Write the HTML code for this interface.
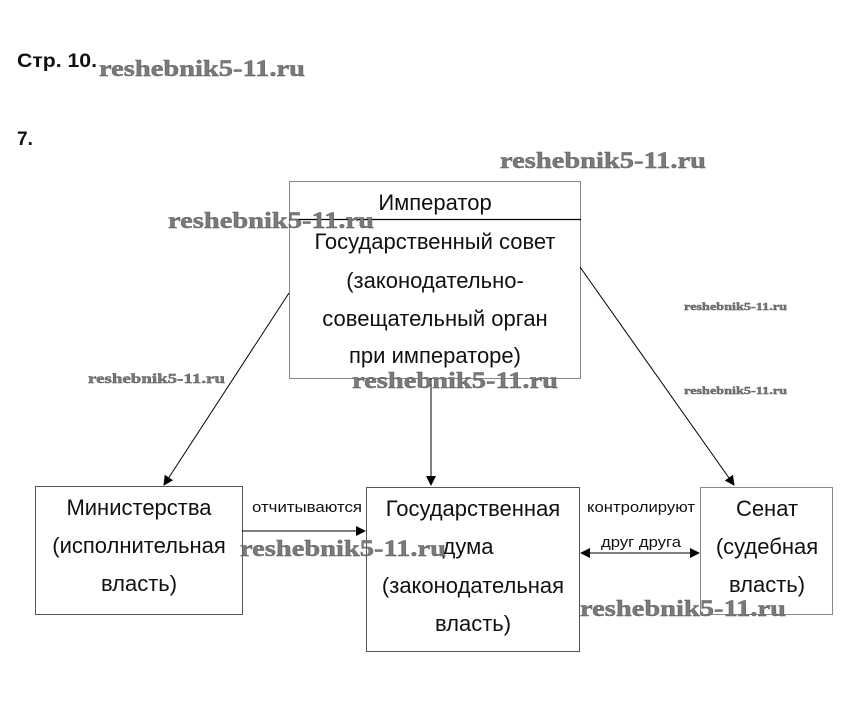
<!DOCTYPE html>
<html><head><meta charset="utf-8"><style>
html,body{margin:0;padding:0;background:#fff;}
svg{display:block;}
.t{font-family:"Liberation Sans","DejaVu Sans",sans-serif;fill:#111;}
.w{font-family:"Liberation Serif","DejaVu Serif",serif;font-weight:bold;fill:#7a7a7a;stroke:#555;stroke-width:0.4;}
</style></head><body>
<svg width="845" height="701" viewBox="0 0 845 701" xmlns="http://www.w3.org/2000/svg">
<defs>
<marker id="a" markerWidth="10" markerHeight="10" refX="9" refY="5" orient="auto" markerUnits="userSpaceOnUse">
<path d="M0,0 L10,5 L0,10 z" fill="#000"/></marker>
<marker id="b" markerWidth="10" markerHeight="10" refX="1" refY="5" orient="auto" markerUnits="userSpaceOnUse">
<path d="M10,0 L0,5 L10,10 z" fill="#000"/></marker>
</defs>
<text class="t" x="17" y="67" font-size="19" font-weight="bold" textLength="80" lengthAdjust="spacingAndGlyphs">Стр. 10.</text>
<text class="t" x="17" y="145" font-size="19" font-weight="bold">7.</text>

<rect x="289.5" y="181.5" width="291" height="197" fill="none" stroke="#888" stroke-width="1"/>
<line x1="289" y1="219.5" x2="581" y2="219.5" stroke="#000" stroke-width="1.2"/>
<rect x="35.5" y="486.5" width="207" height="128" fill="none" stroke="#555" stroke-width="1"/>
<rect x="366.5" y="487.5" width="213" height="164" fill="none" stroke="#555" stroke-width="1"/>
<rect x="700.5" y="487.5" width="132" height="127" fill="none" stroke="#888" stroke-width="1"/>

<line x1="289" y1="293" x2="164" y2="485" stroke="#000" marker-end="url(#a)"/>
<line x1="431" y1="378" x2="431" y2="485" stroke="#000" marker-end="url(#a)"/>
<line x1="580" y1="267" x2="734" y2="485" stroke="#000" marker-end="url(#a)"/>
<line x1="242" y1="531" x2="365" y2="531" stroke="#000" marker-end="url(#a)"/>
<line x1="581" y1="553" x2="699" y2="553" stroke="#000" marker-start="url(#b)" marker-end="url(#a)"/>

<g class="t" font-size="22" text-anchor="middle">
<text x="435" y="210">Император</text>
<text x="435" y="249">Государственный совет</text>
<text x="435" y="288">(законодательно-</text>
<text x="435" y="326">совещательный орган</text>
<text x="435" y="363">при императоре)</text>
<text x="139" y="515">Министерства</text>
<text x="139" y="553">(исполнительная</text>
<text x="139" y="591">власть)</text>
<text x="473" y="516">Государственная</text>
<text x="468" y="554">дума</text>
<text x="473" y="593">(законодательная</text>
<text x="473" y="631">власть)</text>
<text x="767" y="516">Сенат</text>
<text x="767" y="554">(судебная</text>
<text x="767" y="592">власть)</text>
</g>
<g class="t" font-size="15" fill="#222">
<text x="252" y="512" textLength="110" lengthAdjust="spacingAndGlyphs">отчитываются</text>
<text x="587" y="512" textLength="108" lengthAdjust="spacingAndGlyphs">контролируют</text>
<text x="601" y="547" textLength="80" lengthAdjust="spacingAndGlyphs">друг друга</text>
</g>

<g class="w" font-size="23">
<text x="99" y="76" textLength="206" lengthAdjust="spacingAndGlyphs">reshebnik5-11.ru</text>
<text x="500" y="168" textLength="206" lengthAdjust="spacingAndGlyphs">reshebnik5-11.ru</text>
<text x="168" y="228" textLength="206" lengthAdjust="spacingAndGlyphs">reshebnik5-11.ru</text>
<text x="352" y="388" textLength="206" lengthAdjust="spacingAndGlyphs">reshebnik5-11.ru</text>
<text x="240" y="556" textLength="206" lengthAdjust="spacingAndGlyphs">reshebnik5-11.ru</text>
<text x="580" y="616" textLength="206" lengthAdjust="spacingAndGlyphs">reshebnik5-11.ru</text>
</g>
<text class="w" x="88" y="383" font-size="14" textLength="137" lengthAdjust="spacingAndGlyphs">reshebnik5-11.ru</text>
<text class="w" x="684" y="310" font-size="11" textLength="103" lengthAdjust="spacingAndGlyphs">reshebnik5-11.ru</text>
<text class="w" x="684" y="394" font-size="11" textLength="103" lengthAdjust="spacingAndGlyphs">reshebnik5-11.ru</text>
</svg>
</body></html>
